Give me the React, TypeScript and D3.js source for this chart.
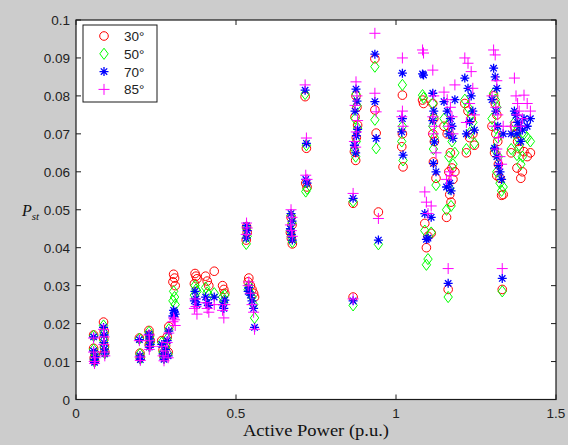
import React from "react";
import * as d3 from "d3";

// Active power (p.u.) for each measurement
const power = [
  0.055, 0.055, 0.057, 0.058, 0.06,
  0.086, 0.088, 0.087, 0.089, 0.09,
  0.198, 0.2, 0.201,
  0.228, 0.23, 0.232, 0.229,
  0.268, 0.272, 0.275, 0.28, 0.285, 0.29, 0.288,
  0.305, 0.308, 0.31, 0.303,
  0.372, 0.375, 0.378, 0.37,
  0.405, 0.41, 0.415, 0.432,
  0.458, 0.462, 0.465,
  0.533, 0.535, 0.532, 0.54, 0.538, 0.545, 0.55, 0.555, 0.558,
  0.672, 0.675, 0.67, 0.673, 0.676,
  0.716, 0.72, 0.718, 0.722,
  0.866, 0.866, 0.875, 0.878, 0.872, 0.88, 0.876, 0.87, 0.874,
  0.934, 0.934, 0.938, 0.945,
  1.02, 1.02, 1.018, 1.022,
  1.083, 1.086, 1.09, 1.095, 1.1,
  1.115, 1.118, 1.115, 1.12, 1.117, 1.125, 1.11,
  1.15, 1.16, 1.17, 1.175, 1.165, 1.178, 1.168, 1.172, 1.163, 1.158, 1.184,
  1.215, 1.225, 1.235, 1.24, 1.23, 1.245, 1.22,
  1.305, 1.31, 1.315, 1.3, 1.312, 1.318, 1.308, 1.32, 1.315, 1.325, 1.33, 1.332, 1.335,
  1.36, 1.37, 1.375, 1.38, 1.385, 1.378, 1.39, 1.4, 1.41, 1.42, 1.395,
];

const pst30 = [
  0.017, 0.0135, 0.011, 0.0103, 0.012,
  0.0204, 0.018, 0.016, 0.014, 0.0125,
  0.0162, 0.0122, 0.011,
  0.0182, 0.017, 0.0155, 0.0145,
  0.0155, 0.013, 0.0115, 0.0142, 0.0165, 0.0192, 0.0125,
  0.033, 0.032, 0.03, 0.031,
  0.0332, 0.0325, 0.0318, 0.0305,
  0.0325, 0.0312, 0.03, 0.0338,
  0.03, 0.029, 0.028,
  0.0455, 0.044, 0.042, 0.032, 0.031, 0.03, 0.029, 0.028, 0.027,
  0.048, 0.046, 0.044, 0.0425, 0.041,
  0.0798, 0.0662, 0.057, 0.056,
  0.027, 0.0517, 0.08, 0.077, 0.0745, 0.0723, 0.069, 0.0653, 0.063,
  0.0898, 0.0763, 0.0702, 0.0494,
  0.0802, 0.07, 0.0666, 0.0613,
  0.0789, 0.078, 0.0464, 0.04, 0.043,
  0.078, 0.074, 0.07, 0.068, 0.0626, 0.0583, 0.0438,
  0.072, 0.07, 0.065, 0.061, 0.06, 0.058, 0.054, 0.052, 0.029, 0.048, 0.06,
  0.078, 0.076, 0.074, 0.07, 0.069, 0.067, 0.065,
  0.08, 0.078, 0.075, 0.072, 0.07, 0.068, 0.065, 0.062, 0.059, 0.0583, 0.0538, 0.029, 0.054,
  0.065, 0.072, 0.07, 0.068, 0.0661, 0.061, 0.0583, 0.0653, 0.064, 0.065, 0.06,
];

const pst50 = [
  0.0168, 0.0132, 0.0107, 0.01, 0.0117,
  0.0195, 0.0175, 0.0155, 0.0137, 0.0122,
  0.016, 0.012, 0.0108,
  0.0178, 0.0165, 0.015, 0.0142,
  0.015, 0.0125, 0.011, 0.0138, 0.016, 0.0185, 0.012,
  0.0285, 0.027, 0.025, 0.026,
  0.03, 0.029, 0.0285, 0.0275,
  0.0295, 0.0282, 0.0275, 0.028,
  0.027, 0.026, 0.0275,
  0.045, 0.043, 0.041, 0.03, 0.029, 0.028, 0.027, 0.025, 0.0215,
  0.0485, 0.0465, 0.0445, 0.043, 0.0415,
  0.0805, 0.067, 0.0548, 0.0555,
  0.0248, 0.0522, 0.0805, 0.0775, 0.074, 0.0715, 0.068, 0.066, 0.064,
  0.0877, 0.0737, 0.0662, 0.0409,
  0.0829, 0.072, 0.068, 0.063,
  0.0802, 0.0795, 0.0445, 0.0355, 0.037,
  0.078, 0.0745, 0.072, 0.069, 0.066, 0.0565, 0.044,
  0.074, 0.072, 0.07, 0.068, 0.064, 0.062, 0.0555, 0.051, 0.027, 0.05, 0.065,
  0.079, 0.077, 0.075, 0.073, 0.0702, 0.0675, 0.066,
  0.0807, 0.079, 0.077, 0.074, 0.0715, 0.069, 0.066, 0.064, 0.06, 0.057, 0.055, 0.0285, 0.056,
  0.066, 0.073, 0.0705, 0.069, 0.067, 0.0644, 0.062, 0.07, 0.069, 0.068, 0.064,
];

const pst70 = [
  0.0165, 0.0128, 0.0105, 0.0098, 0.0113,
  0.019, 0.017, 0.015, 0.0133, 0.012,
  0.0158, 0.0115, 0.0105,
  0.0172, 0.016, 0.0145, 0.0138,
  0.0145, 0.012, 0.0106, 0.0132, 0.0155, 0.018, 0.0115,
  0.0235, 0.023, 0.0225, 0.022,
  0.0285, 0.0265, 0.025, 0.026,
  0.027, 0.0255, 0.0248, 0.027,
  0.025, 0.024, 0.0262,
  0.0458, 0.0445, 0.0425, 0.0295, 0.0285, 0.0275, 0.026, 0.024, 0.019,
  0.049, 0.047, 0.045, 0.0435, 0.042,
  0.0815, 0.0675, 0.058, 0.057,
  0.026, 0.053, 0.0818, 0.0786, 0.076, 0.0712, 0.0695, 0.067, 0.065,
  0.091, 0.0785, 0.0688, 0.042,
  0.086, 0.074, 0.0705, 0.0644,
  0.0858, 0.0855, 0.049, 0.0422, 0.0425,
  0.0807, 0.076, 0.0735, 0.0679, 0.0622, 0.06, 0.048,
  0.0785, 0.076, 0.074, 0.072, 0.07, 0.0688, 0.057, 0.055, 0.0306, 0.056, 0.079,
  0.0847, 0.082, 0.08, 0.076, 0.0732, 0.071, 0.07,
  0.0873, 0.085, 0.082, 0.079, 0.076, 0.072, 0.0662, 0.0617, 0.064, 0.06, 0.058, 0.0319, 0.07,
  0.07, 0.076, 0.0749, 0.073, 0.072, 0.07, 0.068, 0.074, 0.072, 0.074, 0.071,
];

const pst85 = [
  0.0162, 0.0125, 0.01, 0.0095, 0.011,
  0.0185, 0.0165, 0.0145, 0.0125, 0.0115,
  0.0155, 0.0112, 0.0103,
  0.017, 0.0155, 0.014, 0.0132,
  0.014, 0.0115, 0.0102, 0.0128, 0.015, 0.0175, 0.011,
  0.0215, 0.021, 0.0195, 0.0205,
  0.0265, 0.0245, 0.0225, 0.024,
  0.0255, 0.024, 0.023, 0.025,
  0.0235, 0.0215, 0.025,
  0.0465, 0.0452, 0.0435, 0.031, 0.03, 0.028, 0.025, 0.023, 0.0185,
  0.05, 0.048, 0.046, 0.0445, 0.043,
  0.0829, 0.0689, 0.0591, 0.058,
  0.0265, 0.0543, 0.0837, 0.08, 0.0775, 0.0735, 0.0705, 0.068, 0.0665,
  0.0965, 0.0807, 0.0758, 0.0477,
  0.09, 0.076, 0.0745, 0.072,
  0.0921, 0.0913, 0.0547, 0.052, 0.049,
  0.0868, 0.08, 0.0745, 0.072, 0.07, 0.065, 0.051,
  0.081, 0.079, 0.077, 0.0745, 0.072, 0.07, 0.06, 0.059, 0.0345, 0.058, 0.0829,
  0.09, 0.0886, 0.0864, 0.082, 0.078, 0.075, 0.073,
  0.0921, 0.0908, 0.084, 0.08, 0.077, 0.075, 0.072, 0.069, 0.066, 0.064, 0.062, 0.0345, 0.072,
  0.072, 0.0847, 0.08, 0.078, 0.076, 0.075, 0.072, 0.0802, 0.078, 0.076, 0.074,
];

const seriesNames = ["30°", "50°", "70°", "85°"];
const seriesColors = ["#ff0000", "#00ff00", "#0000ff", "#ff00ff"];
const seriesShapes = ["circle", "diamond", "star", "plus"];
const seriesValues = [pst30, pst50, pst70, pst85];

const xTicks = [0, 0.5, 1, 1.5];
const yTicks = [0, 0.01, 0.02, 0.03, 0.04, 0.05, 0.06, 0.07, 0.08, 0.09, 0.1];

const W = 568;
const H = 445;
const L = 76;
const R = 556;
const T = 20;
const B = 399.5;

function Marker({ shape, color, x, y }: { shape: string; color: string; x: number; y: number }) {
  const sw = 1;
  if (shape === "circle") {
    return <circle cx={x} cy={y} r={4.3} fill="none" stroke={color} strokeWidth={sw} />;
  }
  if (shape === "diamond") {
    const w = 4.2, h = 5.6;
    return (
      <path
        d={`M${x},${y - h}L${x + w},${y}L${x},${y + h}L${x - w},${y}Z`}
        fill="none"
        stroke={color}
        strokeWidth={sw}
      />
    );
  }
  if (shape === "star") {
    const s = 4.5, d = 3.2;
    return (
      <path
        d={`M${x},${y - s}V${y + s}M${x - s},${y}H${x + s}M${x - d},${y - d}L${x + d},${y + d}M${x - d},${y + d}L${x + d},${y - d}`}
        stroke={color}
        strokeWidth={1.3}
        fill="none"
      />
    );
  }
  const s = 5.5;
  return (
    <path d={`M${x},${y - s}V${y + s}M${x - s},${y}H${x + s}`} stroke={color} strokeWidth={sw} fill="none" />
  );
}

export default function App() {
  const x = d3.scaleLinear().domain([0, 1.5]).range([L, R]);
  const y = d3.scaleLinear().domain([0, 0.1]).range([B, T]);
  const tickFont = "'Liberation Sans', Arial, sans-serif";
  const serif = "'Liberation Serif', 'Times New Roman', serif";
  const tickLen = 5;

  return (
    <svg width={W} height={H} style={{ position: "absolute", left: 0, top: 0 }}>
      <rect x={0} y={0} width={W} height={H} fill="#cccccc" />
      <rect x={L} y={T} width={R - L} height={B - T} fill="#ffffff" />

      {/* data */}
      {seriesValues.map((vals, si) => (
        <g key={si}>
          {vals.map((v, i) => (
            <Marker key={i} shape={seriesShapes[si]} color={seriesColors[si]} x={x(power[i])} y={y(v)} />
          ))}
        </g>
      ))}

      {/* axes box */}
      <rect x={L} y={T} width={R - L} height={B - T} fill="none" stroke="#1a1a1a" strokeWidth={1.2} />

      {/* x ticks */}
      {xTicks.map((t) => (
        <g key={t}>
          <line x1={x(t)} x2={x(t)} y1={B} y2={B - tickLen} stroke="#1a1a1a" />
          <line x1={x(t)} x2={x(t)} y1={T} y2={T + tickLen} stroke="#1a1a1a" />
          <text
            x={x(t)}
            y={B + 18}
            textAnchor="middle"
            fontFamily={tickFont}
            fontSize={13.5}
            fill="#222"
          >
            {d3.format("~g")(t)}
          </text>
        </g>
      ))}

      {/* y ticks */}
      {yTicks.map((t) => (
        <g key={t}>
          <line x1={L} x2={L + tickLen} y1={y(t)} y2={y(t)} stroke="#1a1a1a" />
          <line x1={R} x2={R - tickLen} y1={y(t)} y2={y(t)} stroke="#1a1a1a" />
          <text
            x={L - 6}
            y={y(t) + 5}
            textAnchor="end"
            fontFamily={tickFont}
            fontSize={13.5}
            fill="#222"
          >
            {d3.format("~g")(t)}
          </text>
        </g>
      ))}

      {/* axis labels */}
      <text
        x={(L + R) / 2}
        y={436}
        textAnchor="middle"
        fontFamily={serif}
        fontSize={16}
        fill="#111"
        textLength={146}
        lengthAdjust="spacingAndGlyphs"
      >
        Active Power (p.u.)
      </text>
      <text x={22} y={216} fontFamily={serif} fontSize={16} fontStyle="italic" fill="#111">
        P
        <tspan fontSize={11} dy={4}>st</tspan>
      </text>

      {/* legend */}
      <rect x={83} y={25} width={74} height={77} fill="#ffffff" stroke="#1a1a1a" strokeWidth={1} />
      {seriesNames.map((name, i) => (
        <g key={name}>
          <Marker shape={seriesShapes[i]} color={seriesColors[i]} x={104} y={36 + i * 17.8} />
          <text x={124} y={36 + i * 17.8 + 5} fontFamily={tickFont} fontSize={13.5} fill="#222">
            {name}
          </text>
        </g>
      ))}
    </svg>
  );
}
